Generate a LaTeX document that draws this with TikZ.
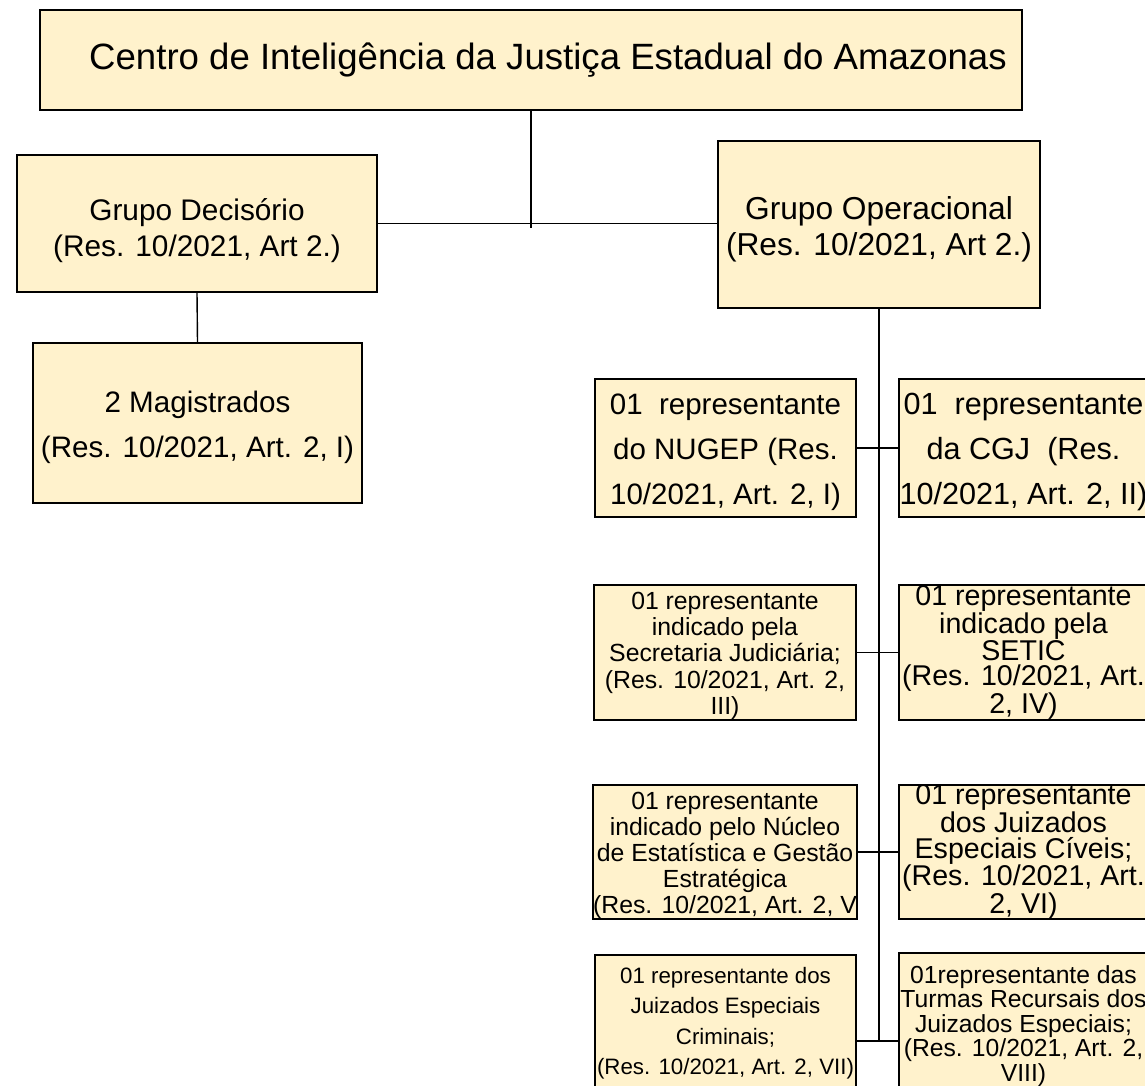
\documentclass[tikz,border=0pt]{standalone}
\usepackage{fontspec}
\setmainfont{Liberation Sans}
\definecolor{boxfill}{HTML}{FFF2CC}
\newcommand\lift[1]{\rule{0pt}{#1}}

\begin{document}
\begin{tikzpicture}[x=1pt, y=-1pt,
    box/.style={draw, line width=1.6pt, fill=boxfill, align=center, inner sep=0pt},
    link/.style={line width=1.4pt}]
\useasboundingbox (0,0) rectangle (1145,1086);
\clip (0,0) rectangle (1145,1086);
\fill[white] (0,0) rectangle (1145,1086);

\node[box, minimum width=982, minimum height=100, font=\fontsize{36.6}{44}\selectfont] (centro) at (531,60)
    {\hspace*{34pt}Centro de Inteligência da Justiça Estadual do Amazonas};

\node[box, minimum width=360, minimum height=137, font=\fontsize{29.8}{35.5}\selectfont] (decisorio) at (197,223.5)
    {\lift{36pt}Grupo Decisório\\(Res. 10/2021, Art 2.)};
\node[box, minimum width=329, minimum height=160, font=\fontsize{29.6}{45}\selectfont] (magistrados) at (197.5,423)
    {\lift{31pt}2 Magistrados\\(Res. 10/2021, Art. 2, I)};
\node[box, minimum width=322, minimum height=167, font=\fontsize{31.7}{36}\selectfont] (operacional) at (879,224.5)
    {\lift{33pt}Grupo Operacional\\(Res. 10/2021, Art 2.)};

\node[box, minimum width=261, minimum height=138, font=\fontsize{29.5}{45}\selectfont] (nugep) at (725.5,448)
    {\lift{29pt}01\ \ representante\\do NUGEP (Res.\\10/2021, Art. 2, I)};
\node[box, minimum width=249, minimum height=138, font=\fontsize{30.6}{45}\selectfont] (cgj) at (1023.5,448)
    {\lift{30pt}01\ \ representante\\da CGJ\ \ (Res.\\10/2021, Art. 2, II)};

\node[box, minimum width=262, minimum height=135, font=\fontsize{24.8}{26.3}\selectfont] (secretaria) at (725,652.5)
    {\lift{24pt}01 representante\\indicado pela\\Secretaria Judiciária;\\(Res. 10/2021, Art. 2,\\III)};
\node[box, minimum width=249, minimum height=135, font=\fontsize{28.6}{25.6}\selectfont] (setic) at (1023.5,652.5)
    {01 representante\\indicado pela\\SETIC\\(Res. 10/2021, Art.\\2, IV)};

\node[box, minimum width=262, minimum height=134, font=\fontsize{24.8}{25.8}\selectfont] (nucleo) at (725,852)
    {\lift{24pt}01 representante\\indicado pelo Núcleo\\de Estatística e Gestão\\Estratégica\\(Res. 10/2021, Art. 2, V};
\node[box, minimum width=249, minimum height=134, font=\fontsize{28.6}{25.6}\selectfont] (civeis) at (1023.5,852)
    {01 representante\\dos Juizados\\Especiais Cíveis;\\(Res. 10/2021, Art.\\2, VI)};

\node[box, minimum width=261, minimum height=136, font=\fontsize{22.3}{30.5}\selectfont] (criminais) at (725.5,1023)
    {01 representante dos\\Juizados Especiais\\Criminais;\\(Res. 10/2021, Art. 2, VII)};
\node[box, minimum width=249, minimum height=136, font=\fontsize{24.7}{24.5}\selectfont] (turmas) at (1023.5,1021)
    {\lift{27.5pt}01representante das\\Turmas Recursais dos\\Juizados Especiais;\\(Res. 10/2021, Art. 2,\\VIII)};

\coordinate (topo) at (centro.south |- decisorio.east);
\coordinate (fim) at (879,1041);
\draw[link] (centro.south) -- ([yshift=-4pt]topo);
\draw[link] (decisorio.east) -- (decisorio.east -| operacional.west);
\draw[link] (decisorio.south) -- (magistrados.north);
\draw[link] (operacional.south) -- ([yshift=-1pt]fim);
\draw[link] (nugep) -- (cgj);
\draw[link] (secretaria) -- (setic);
\draw[link] (nucleo) -- (civeis);
\draw[link] (criminais.east |- fim) -- (turmas.west |- fim);
\end{tikzpicture}
\end{document}
